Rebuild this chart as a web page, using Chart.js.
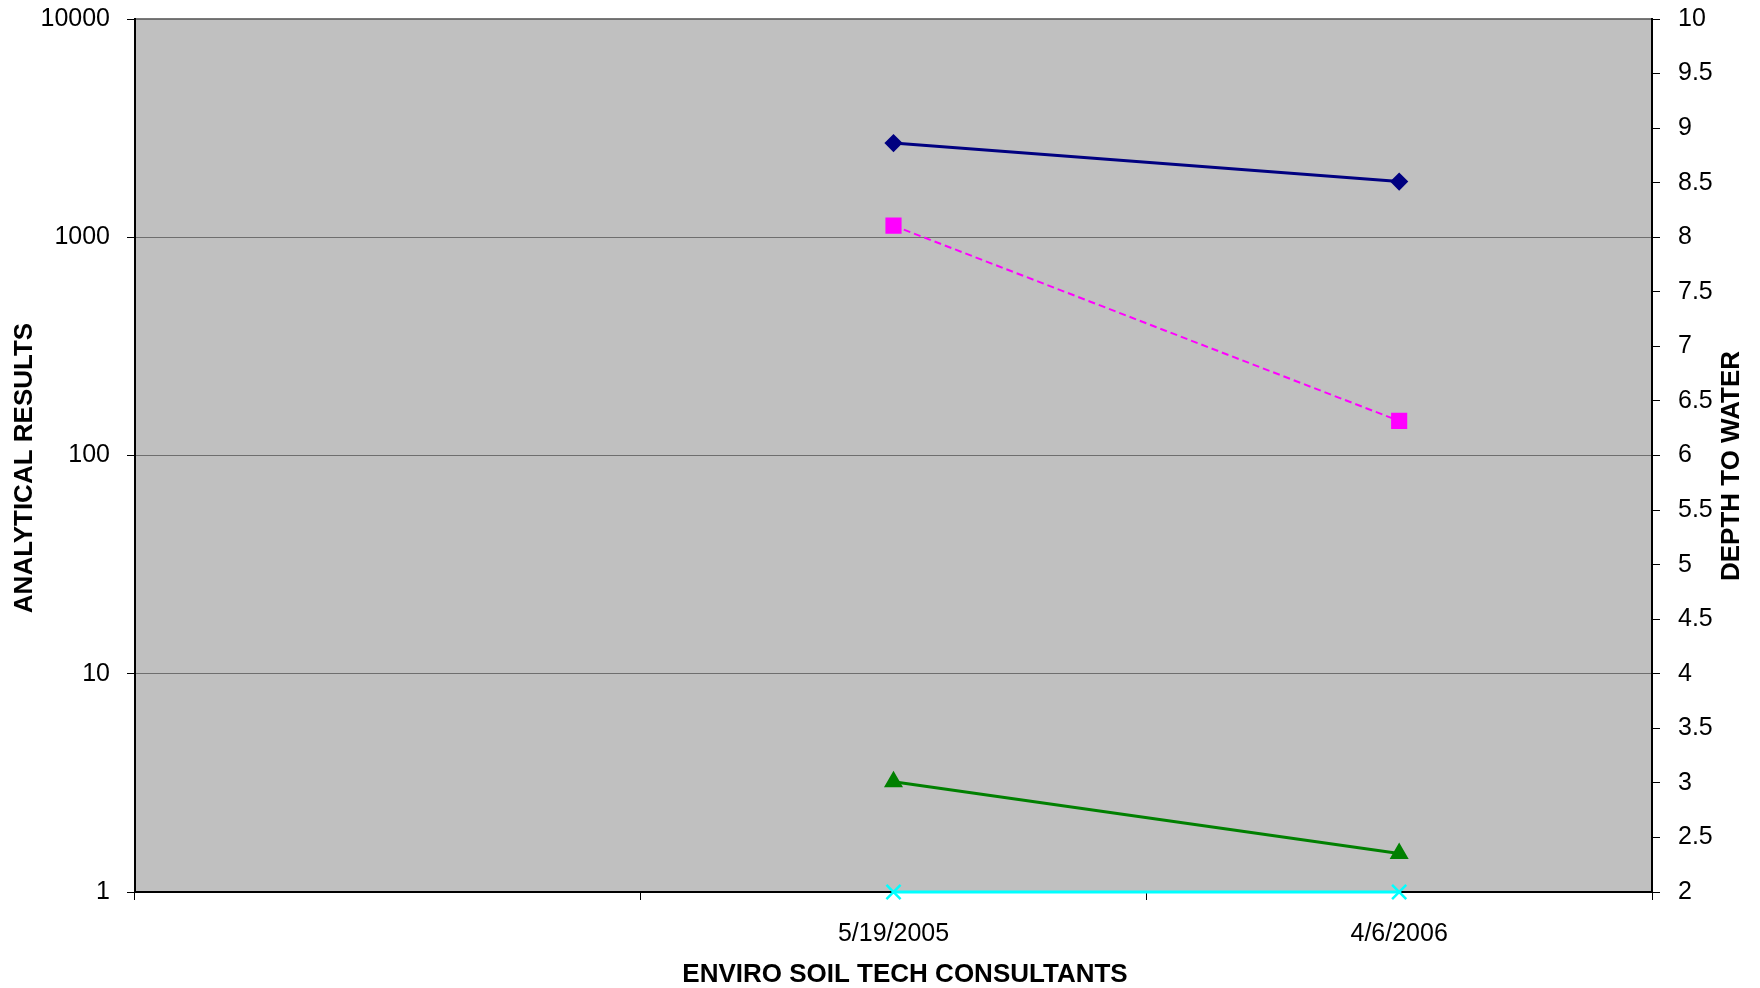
<!DOCTYPE html>
<html>
<head>
<meta charset="utf-8">
<script src="https://cdn.jsdelivr.net/npm/chart.js@4/dist/chart.umd.min.js"></script>
<style>
  body { margin: 0; background: #fff; }
</style>
</head>
<body>
<canvas id="myChart" width="1760" height="988"></canvas>
<script>
        // chart values
        let dates = ["", "5/19/2005", "4/6/2006"];
        let seriesNavy = [null, 2700, 1800];
        let seriesPink = [null, 1130, 144];
        let seriesGreen = [null, 3.2, 1.5];
        let seriesCyan = [null, 1, 1];
        let leftTicks = [1, 10, 100, 1000, 10000];
        let depthMin = 2;
        let depthMax = 10;
        let depthStep = 0.5;

        const fontName = "'Liberation Sans', Arial, sans-serif";

        // grey plot area + axis titles
        const plotStuff = {
            id: 'plotStuff',
            beforeDraw(chart) {
                const ctx = chart.ctx;
                const a = chart.chartArea;
                ctx.save();
                ctx.fillStyle = '#c0c0c0';
                ctx.fillRect(a.left, a.top, a.right - a.left, a.bottom - a.top);
                ctx.strokeStyle = '#7a7a7a';
                ctx.lineWidth = 2;
                ctx.beginPath();
                ctx.moveTo(a.left, a.top);
                ctx.lineTo(a.right, a.top);
                ctx.stroke();
                ctx.restore();
            },
            afterDraw(chart) {
                const ctx = chart.ctx;
                ctx.save();
                ctx.fillStyle = '#000';
                ctx.font = "bold 26px " + fontName;
                ctx.textAlign = 'center';
                ctx.textBaseline = 'middle';
                ctx.translate(25, 468);
                ctx.rotate(-Math.PI / 2);
                ctx.fillText("ANALYTICAL RESULTS", 0, 0);
                ctx.restore();

                ctx.save();
                ctx.fillStyle = '#000';
                ctx.font = "bold 26px " + fontName;
                ctx.textAlign = 'center';
                ctx.textBaseline = 'middle';
                ctx.translate(1732, 466);
                ctx.rotate(-Math.PI / 2);
                ctx.fillText("DEPTH TO WATER", 0, 0);
                ctx.restore();

                ctx.save();
                ctx.fillStyle = '#000';
                ctx.font = "bold 26px " + fontName;
                ctx.textAlign = 'center';
                ctx.textBaseline = 'middle';
                ctx.fillText("ENVIRO SOIL TECH CONSULTANTS", 905, 975);
                ctx.restore();
            }
        };

        function graphData() {
            const ctx = document.getElementById('myChart');
            new Chart(ctx, {
                type: 'line',
                data: {
                    labels: dates,
                    datasets: [{
                        label: "Result A",
                        data: seriesNavy,
                        borderColor: "#000080",
                        backgroundColor: "#000080",
                        borderWidth: 3,
                        pointStyle: 'rectRot',
                        pointRadius: 7,
                        clip: false
                    }, {
                        label: "Result B",
                        data: seriesPink,
                        borderColor: "#ff00ff",
                        backgroundColor: "#ff00ff",
                        borderWidth: 2,
                        borderDash: [7, 4],
                        pointStyle: 'rect',
                        pointRadius: 10,
                        clip: false
                    }, {
                        label: "Result C",
                        data: seriesGreen,
                        borderColor: "#008000",
                        backgroundColor: "#008000",
                        borderWidth: 3,
                        pointStyle: 'triangle',
                        pointRadius: 8,
                        clip: false
                    }, {
                        label: "Result D",
                        data: seriesCyan,
                        borderColor: "#00ffff",
                        backgroundColor: "#00ffff",
                        borderWidth: 3,
                        pointStyle: 'crossRot',
                        pointRadius: 10,
                        pointBorderWidth: 2.5,
                        clip: false
                    }]
                },
                options: {
                    responsive: false,
                    animation: false,
                    devicePixelRatio: 1,
                    layout: { padding: { top: 19, left: 0, right: 0, bottom: 0 } },
                    plugins: {
                        legend: { display: false },
                        tooltip: { enabled: false }
                    },
                    scales: {
                        x: {
                            type: 'category',
                            offset: true,
                            grid: {
                                offset: true,
                                drawOnChartArea: false,
                                tickLength: 8,
                                tickColor: '#000'
                            },
                            border: { color: '#000', width: 2 },
                            ticks: {
                                color: '#000',
                                padding: 19,
                                maxRotation: 0,
                                font: { family: fontName, size: 25 }
                            },
                            afterFit(scale) { scale.height = 96; }
                        },
                        y: {
                            type: 'logarithmic',
                            position: 'left',
                            min: 1,
                            max: 10000,
                            afterBuildTicks(scale) {
                                scale.ticks = leftTicks.map(v => ({ value: v }));
                            },
                            grid: {
                                color: '#6e6e6e',
                                tickColor: '#000',
                                tickLength: 8,
                                lineWidth: 1
                            },
                            border: { color: '#000', width: 2 },
                            ticks: {
                                color: '#000',
                                padding: 17,
                                font: { family: fontName, size: 25 },
                                callback: (v) => String(v)
                            },
                            afterFit(scale) {
                                scale.width = 135;
                                scale.paddingTop = 0;
                                scale.paddingBottom = 0;
                            }
                        },
                        y2: {
                            type: 'linear',
                            position: 'right',
                            min: depthMin,
                            max: depthMax,
                            grid: {
                                drawOnChartArea: false,
                                tickColor: '#000',
                                tickLength: 8
                            },
                            border: { color: '#000', width: 2 },
                            ticks: {
                                stepSize: depthStep,
                                color: '#000',
                                padding: 18,
                                font: { family: fontName, size: 25 },
                                callback: (v) => String(v)
                            },
                            afterFit(scale) {
                                scale.width = 108;
                                scale.paddingTop = 0;
                                scale.paddingBottom = 0;
                            }
                        }
                    }
                },
                plugins: [plotStuff]
            });
        }

        graphData();
</script>
</body>
</html>
